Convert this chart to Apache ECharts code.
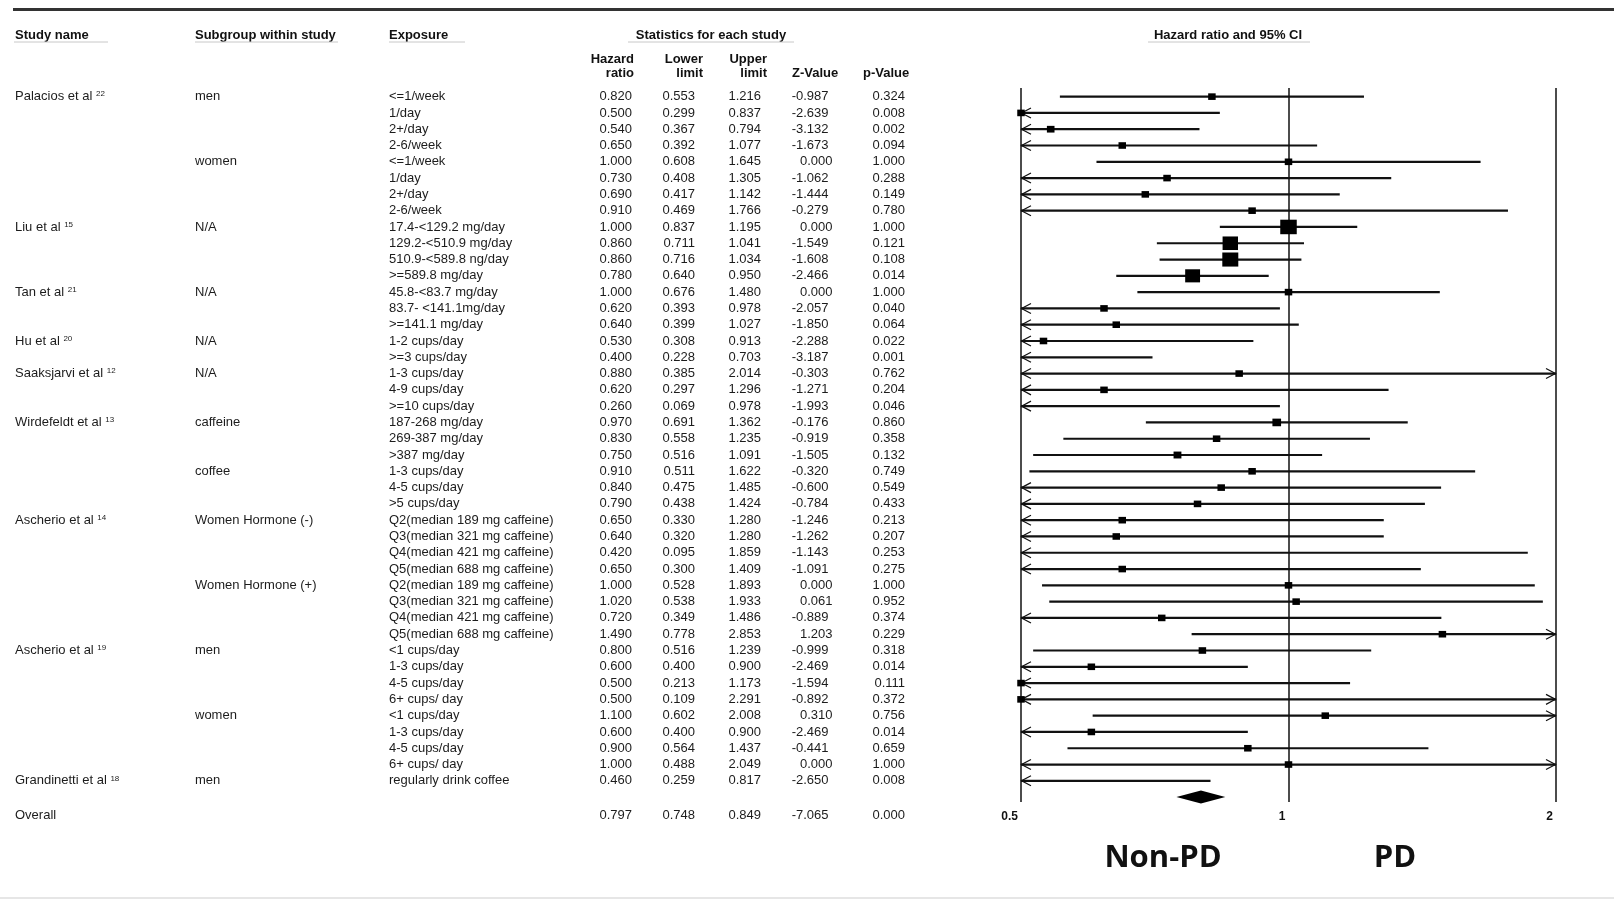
<!DOCTYPE html>
<html><head><meta charset="utf-8">
<script src="https://cdn.jsdelivr.net/npm/echarts@6/dist/echarts.min.js"></script>
<style>html,body{margin:0;padding:0;background:#fff}#c{width:1614px;height:901px}</style>
</head><body><div id="c"></div>
<script>
// ---------------- DATA ----------------
const studyNames = [
 'Palacios et al','','','','','','','',
 'Liu et al','','','',
 'Tan et al','','',
 'Hu et al','',
 'Saaksjarvi et al','','',
 'Wirdefeldt et al','','','','','',
 'Ascherio et al','','','','','','','',
 'Ascherio et al','','','','','','','',
 'Grandinetti et al'];
const studyRefs = [
 '22','','','','','','','',
 '15','','','',
 '21','','',
 '20','',
 '12','','',
 '13','','','','','',
 '14','','','','','','','',
 '19','','','','','','','',
 '18'];
const subgroups = [
 'men','','','','women','','','',
 'N/A','','','',
 'N/A','','',
 'N/A','',
 'N/A','','',
 'caffeine','','','coffee','','',
 'Women Hormone (-)','','','','Women Hormone (+)','','','',
 'men','','','','women','','','',
 'men'];
const exposures = [
 '<=1/week','1/day','2+/day','2-6/week','<=1/week','1/day','2+/day','2-6/week',
 '17.4-<129.2 mg/day','129.2-<510.9 mg/day','510.9-<589.8 ng/day','>=589.8 mg/day',
 '45.8-<83.7 mg/day','83.7- <141.1mg/day','>=141.1 mg/day',
 '1-2 cups/day','>=3 cups/day',
 '1-3 cups/day','4-9 cups/day','>=10 cups/day',
 '187-268 mg/day','269-387 mg/day','>387 mg/day','1-3 cups/day','4-5 cups/day','>5 cups/day',
 'Q2(median 189 mg caffeine)','Q3(median 321 mg caffeine)','Q4(median 421 mg caffeine)','Q5(median 688 mg caffeine)',
 'Q2(median 189 mg caffeine)','Q3(median 321 mg caffeine)','Q4(median 421 mg caffeine)','Q5(median 688 mg caffeine)',
 '<1 cups/day','1-3 cups/day','4-5 cups/day','6+ cups/ day','<1 cups/day','1-3 cups/day','4-5 cups/day','6+ cups/ day',
 'regularly drink coffee'];
const hazardRatio = [0.820,0.500,0.540,0.650,1.000,0.730,0.690,0.910, 1.000,0.860,0.860,0.780, 1.000,0.620,0.640, 0.530,0.400, 0.880,0.620,0.260, 0.970,0.830,0.750,0.910,0.840,0.790, 0.650,0.640,0.420,0.650,1.000,1.020,0.720,1.490, 0.800,0.600,0.500,0.500,1.100,0.600,0.900,1.000, 0.460];
const lowerLimit = [0.553,0.299,0.367,0.392,0.608,0.408,0.417,0.469, 0.837,0.711,0.716,0.640, 0.676,0.393,0.399, 0.308,0.228, 0.385,0.297,0.069, 0.691,0.558,0.516,0.511,0.475,0.438, 0.330,0.320,0.095,0.300,0.528,0.538,0.349,0.778, 0.516,0.400,0.213,0.109,0.602,0.400,0.564,0.488, 0.259];
const upperLimit = [1.216,0.837,0.794,1.077,1.645,1.305,1.142,1.766, 1.195,1.041,1.034,0.950, 1.480,0.978,1.027, 0.913,0.703, 2.014,1.296,0.978, 1.362,1.235,1.091,1.622,1.485,1.424, 1.280,1.280,1.859,1.409,1.893,1.933,1.486,2.853, 1.239,0.900,1.173,2.291,2.008,0.900,1.437,2.049, 0.817];
const zValue = [-0.987,-2.639,-3.132,-1.673,0.000,-1.062,-1.444,-0.279, 0.000,-1.549,-1.608,-2.466, 0.000,-2.057,-1.850, -2.288,-3.187, -0.303,-1.271,-1.993, -0.176,-0.919,-1.505,-0.320,-0.600,-0.784, -1.246,-1.262,-1.143,-1.091,0.000,0.061,-0.889,1.203, -0.999,-2.469,-1.594,-0.892,0.310,-2.469,-0.441,0.000, -2.650];
const pValue = [0.324,0.008,0.002,0.094,1.000,0.288,0.149,0.780, 1.000,0.121,0.108,0.014, 1.000,0.040,0.064, 0.022,0.001, 0.762,0.204,0.046, 0.860,0.358,0.132,0.749,0.549,0.433, 0.213,0.207,0.253,0.275,1.000,0.952,0.374,0.229, 0.318,0.014,0.111,0.372,0.756,0.014,0.659,1.000, 0.008];
const overallLabel = 'Overall';
const overallStats = [0.797, 0.748, 0.849, -7.065, 0.000]; // HR, lower, upper, Z, p
const axisTicks = [0.5, 1, 2];
const sideLabels = ['Non-PD', 'PD'];

// ---------------- LAYOUT ----------------
const AX_MIN = axisTicks[0], AX_MAX = axisTicks[axisTicks.length - 1];
const GRID_TOP = 88, GRID_H = 714, Y_MIN = -0.53, Y_MAX = 43.3;
const OVERALL_ROW = 44.1, DIAMOND_ROW = 43;
const COL = {study: 15, subgroup: 195, exposure: 389, hr: 632, lower: 695, upper: 761, zNeg: 828.5, zPos: 832.5, p: 905};
const FF = '"Liberation Sans", Arial, Helvetica, sans-serif';
const BODY_FONT = '13px ' + FF;
const BOLD_FONT = 'bold 13px ' + FF;
const TXT = '#1c1c1c';
const INK = '#111';

// build table cells
const cells = [];
function addCell(row, x, align, text, rich) { cells.push({row, x, align, text, rich}); }
for (let i = 0; i < hazardRatio.length; i++) {
  if (studyNames[i]) addCell(i, COL.study, 'left', '{n|' + studyNames[i] + ' }{s|' + studyRefs[i] + '}', true);
  if (subgroups[i]) addCell(i, COL.subgroup, 'left', subgroups[i]);
  addCell(i, COL.exposure, 'left', exposures[i]);
  addCell(i, COL.hr, 'right', hazardRatio[i].toFixed(3));
  addCell(i, COL.lower, 'right', lowerLimit[i].toFixed(3));
  addCell(i, COL.upper, 'right', upperLimit[i].toFixed(3));
  addCell(i, zValue[i] < 0 ? COL.zNeg : COL.zPos, 'right', zValue[i].toFixed(3));
  addCell(i, COL.p, 'right', pValue[i].toFixed(3));
}
addCell(OVERALL_ROW, COL.study, 'left', overallLabel);
addCell(OVERALL_ROW, COL.hr, 'right', overallStats[0].toFixed(3));
addCell(OVERALL_ROW, COL.lower, 'right', overallStats[1].toFixed(3));
addCell(OVERALL_ROW, COL.upper, 'right', overallStats[2].toFixed(3));
addCell(OVERALL_ROW, overallStats[3] < 0 ? COL.zNeg : COL.zPos, 'right', overallStats[3].toFixed(3));
addCell(OVERALL_ROW, COL.p, 'right', overallStats[4].toFixed(3));

const RICH = {
  n: {fontSize: 13, fontFamily: FF, fill: TXT},
  s: {fontSize: 8, fontFamily: FF, fill: TXT, verticalAlign: 'top'}
};

function hText(x, y, text, align, font) {
  return {type: 'text', x: x, y: y, silent: true,
    style: {text: text, font: font || BOLD_FONT, fill: INK, align: align, verticalAlign: 'middle', textAlign: align, textVerticalAlign: 'middle'}};
}
function hLine(x1, y1, x2, y2, color, w) {
  return {type: 'line', silent: true, shape: {x1, y1, x2, y2}, style: {stroke: color, lineWidth: w}};
}

const chart = echarts.init(document.getElementById('c'), null, {renderer: 'canvas'});
chart.setOption({
  animation: false,
  backgroundColor: '#fff',
  grid: [
    {left: 1021, width: 535, top: GRID_TOP, height: GRID_H},
    {left: 0, width: 1614, top: GRID_TOP, height: GRID_H}
  ],
  xAxis: [
    {gridIndex: 0, type: 'log', logBase: 2, min: AX_MIN, max: AX_MAX,
     axisLine: {show: false}, axisTick: {show: false},
     splitLine: {show: true, lineStyle: {color: INK, width: 1.5}},
     axisLabel: {show: true, margin: 9, fontSize: 12, fontWeight: 'bold', fontFamily: FF, color: INK,
       align: 'right', padding: [0, 3, 0, 0],
       formatter: v => String(+(+v).toFixed(2))}},
    {gridIndex: 1, type: 'value', min: 0, max: 1614, show: false}
  ],
  yAxis: [
    {gridIndex: 0, type: 'value', min: Y_MIN, max: Y_MAX, inverse: true, show: false},
    {gridIndex: 1, type: 'value', min: Y_MIN, max: Y_MAX, inverse: true, show: false}
  ],
  graphic: {elements: [
    hLine(13, 9.5, 1614, 9.5, '#333', 3),
    hText(15, 35, 'Study name', 'left'),
    hText(195, 35, 'Subgroup within study', 'left'),
    hText(389, 35, 'Exposure', 'left'),
    hText(711, 35, 'Statistics for each study', 'center'),
    hText(1228, 35, 'Hazard ratio and 95% CI', 'center'),
    hLine(14, 42, 108, 42, '#c8c8c8', 1),
    hLine(195, 42, 338, 42, '#c8c8c8', 1),
    hLine(389, 42, 465, 42, '#c8c8c8', 1),
    hLine(628, 42, 794, 42, '#c8c8c8', 1),
    hLine(1148, 42, 1310, 42, '#c8c8c8', 1),
    hText(634, 59, 'Hazard', 'right'),
    hText(634, 73, 'ratio', 'right'),
    hText(703, 59, 'Lower', 'right'),
    hText(703, 73, 'limit', 'right'),
    hText(767, 59, 'Upper', 'right'),
    hText(767, 73, 'limit', 'right'),
    hText(792, 73, 'Z-Value', 'left'),
    hText(863, 73, 'p-Value', 'left'),
    hText(1163, 858, sideLabels[0], 'center', 'bold 31px "Open Sans", "Noto Sans", sans-serif'),
    hText(1395, 858, sideLabels[1], 'center', 'bold 31px "Open Sans", "Noto Sans", sans-serif'),
    hLine(0, 898, 1614, 898, '#e6e6e6', 2)
  ]},
  series: [
    {
      type: 'custom', name: 'table', xAxisIndex: 1, yAxisIndex: 1, silent: true,
      data: cells.map(c => [c.x, c.row]),
      encode: {x: 0, y: 1},
      renderItem: function (params, api) {
        const c = cells[params.dataIndex];
        const p = api.coord([c.x, c.row]);
        const st = {text: c.text, font: BODY_FONT, fill: TXT, align: c.align, verticalAlign: 'middle'};
        if (c.rich) st.rich = RICH;
        return {type: 'text', x: p[0], y: p[1], style: st};
      }
    },
    {
      type: 'custom', name: 'studies', xAxisIndex: 0, yAxisIndex: 0, silent: true,
      data: hazardRatio.map((v, i) => [i, v, lowerLimit[i], upperLimit[i]]),
      encode: {x: [1, 2, 3], y: 0},
      renderItem: function (params, api) {
        const row = api.value(0), est = api.value(1), lo = api.value(2), hi = api.value(3);
        const y = api.coord([1, row])[1];
        const xMin = api.coord([AX_MIN, row])[0], xMax = api.coord([AX_MAX, row])[0];
        const xl = lo < AX_MIN ? xMin : api.coord([lo, row])[0];
        const xh = hi > AX_MAX ? xMax : api.coord([hi, row])[0];
        const ch = [{type: 'line', shape: {x1: xl, y1: y, x2: xh, y2: y}, style: {stroke: INK, lineWidth: 2.2}}];
        if (lo < AX_MIN) ch.push({type: 'polyline', shape: {points: [[xMin + 10, y - 5], [xMin + 0.5, y], [xMin + 10, y + 5]]}, style: {stroke: INK, lineWidth: 1.2, fill: null}});
        if (hi > AX_MAX) ch.push({type: 'polyline', shape: {points: [[xMax - 10, y - 5], [xMax - 0.5, y], [xMax - 10, y + 5]]}, style: {stroke: INK, lineWidth: 1.2, fill: null}});
        if (est >= AX_MIN && est <= AX_MAX) {
          const se = (Math.log(hi) - Math.log(lo)) / 3.92;
          const s = Math.max(7.5, 1.5 / se);
          const x = api.coord([est, row])[0];
          const h = s * 0.88;
          ch.push({type: 'rect', shape: {x: x - s / 2, y: y - h / 2, width: s, height: h}, style: {fill: '#000'}});
        }
        return {type: 'group', children: ch};
      }
    },
    {
      type: 'custom', name: 'overall', xAxisIndex: 0, yAxisIndex: 0, silent: true,
      data: [[DIAMOND_ROW, overallStats[0], overallStats[1], overallStats[2]]],
      encode: {x: [1, 2, 3], y: 0},
      renderItem: function (params, api) {
        const row = api.value(0);
        const c = api.coord([api.value(1), row]);
        const l = api.coord([api.value(2), row]);
        const r = api.coord([api.value(3), row]);
        return {type: 'polygon', shape: {points: [[l[0], c[1]], [c[0], c[1] - 6.5], [r[0], c[1]], [c[0], c[1] + 6.5]]}, style: {fill: '#000'}};
      }
    }
  ]
});
</script></body></html>
